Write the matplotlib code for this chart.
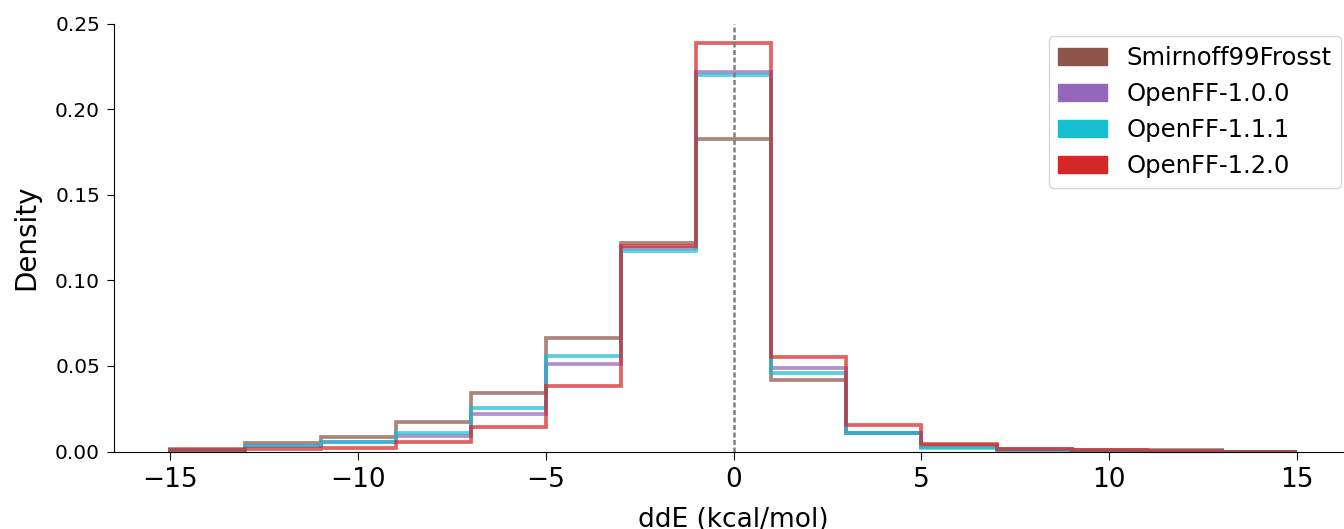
import numpy as np
import matplotlib.pyplot as plt
from matplotlib.patches import Patch

# bin edges of the ddE histograms (kcal/mol)
edges = [-15, -13, -11, -9, -7, -5, -3, -1, 1, 3, 5, 7, 9, 11, 13, 15]

# density per bin
smirnoff = [0.0012, 0.0047, 0.0082, 0.0171, 0.0343, 0.0666, 0.122, 0.183,
            0.042, 0.011, 0.004, 0.0015, 0.0008, 0.0008, 0.0]
openff_100 = [0.0010, 0.0035, 0.0055, 0.0093, 0.0222, 0.051, 0.119, 0.222,
              0.049, 0.011, 0.0025, 0.0010, 0.0005, 0.0003, 0.0]
openff_111 = [0.0010, 0.0031, 0.0058, 0.0109, 0.0255, 0.056, 0.117, 0.220,
              0.046, 0.0106, 0.0018, 0.0010, 0.0005, 0.0003, 0.0]
openff_120 = [0.0008, 0.0016, 0.0023, 0.0058, 0.0144, 0.0385, 0.120, 0.239,
              0.055, 0.0157, 0.0042, 0.0017, 0.0008, 0.0003, 0.0]

labels = ["Smirnoff99Frosst", "OpenFF-1.0.0", "OpenFF-1.1.1", "OpenFF-1.2.0"]
colors = ["tab:brown", "tab:purple", "tab:cyan", "tab:red"]
series = [smirnoff, openff_100, openff_111, openff_120]

fig = plt.figure(figsize=(13.44, 5.29), dpi=100)
ax = fig.add_axes([0.0848, 0.1465, 0.9222, 0.8083])

for vals, c in zip(series, colors):
    ax.stairs(np.array(vals), np.array(edges), baseline=0, fill=False,
              color=c, lw=2.7, alpha=0.72)

ax.axvline(0, color="grey", lw=1.8, ls=(0, (2, 1)))

ax.set_xlim(-16.5, 16.5)
ax.set_ylim(0, 0.25)
ax.set_yticks([0, 0.05, 0.10, 0.15, 0.20, 0.25])
ax.set_yticklabels(["0.00", "0.05", "0.10", "0.15", "0.20", "0.25"])
ax.tick_params(axis="x", labelsize=19, length=6, pad=5)
ax.tick_params(axis="y", labelsize=14.5, length=5, pad=5)
ax.set_xlabel("ddE (kcal/mol)", fontsize=19, labelpad=10)
ax.set_ylabel("Density", fontsize=20, labelpad=11)

ax.spines["top"].set_visible(False)
ax.spines["right"].set_visible(False)

handles = [Patch(color=c, label=l) for c, l in zip(colors, labels)]
ax.legend(handles=handles, loc="upper right", fontsize=17.5)

fig.savefig("out.png", dpi=100)
